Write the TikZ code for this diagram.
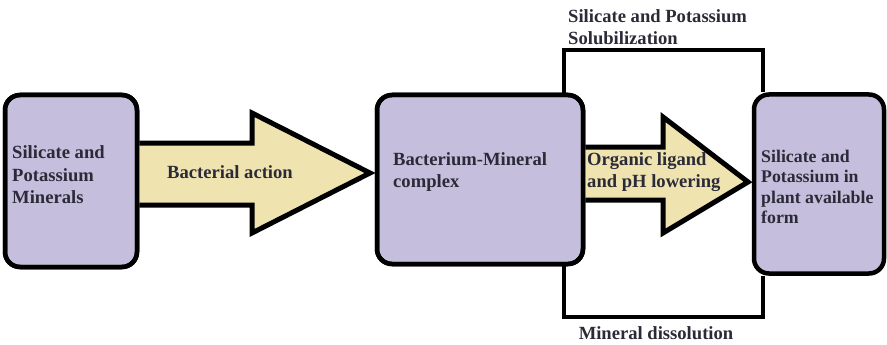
\documentclass[tikz,border=0pt]{standalone}
\usepackage{fontspec}
\setmainfont{Liberation Serif}
\definecolor{boxfill}{HTML}{C6BEDD}
\definecolor{arrfill}{HTML}{EFE3B0}
\definecolor{txt}{HTML}{2B2B38}
\begin{document}
\begin{tikzpicture}[x=1pt,y=-1pt,
  lbl/.style={font=\fontsize{18.6}{22.5}\selectfont\bfseries, text=txt, align=left, inner sep=0pt},
  mbox/.style={draw=black, line width=4.5pt, fill=boxfill, rounded corners=15pt, inner sep=0pt},
  fatarrow/.style={draw=black, line width=5pt, fill=arrfill, line join=miter},
  bracket/.style={draw=black, line width=4.5pt, line join=miter}]
\useasboundingbox (0,0) rectangle (887,345);
% bracket corner points
\coordinate (tl) at (564,50);
\coordinate (tr) at (763,50);
\coordinate (bl) at (564,317);
\coordinate (br) at (763,317);
% boxes
\node[mbox, minimum width=132pt, minimum height=172pt] (b1) at (71,181) {};
\node[mbox, minimum width=206pt, minimum height=169pt] (b2) at (480,179.5) {};
\node[mbox, minimum width=130pt, minimum height=179pt] (b3) at (819,184) {};
\draw[bracket] (b2.north -| tl) -- (tl) -- (tr) -- (b3.north -| tr);
\draw[bracket] (b2.south -| bl) -- (bl) -- (br) -- (b3.south -| br);
% arrows
\draw[fatarrow] (b1.east |- 0,143) -- (252,143) -- (252,113) -- (370,173) -- (252,233) -- (252,205) -- (b1.east |- 0,205);
\draw[fatarrow] (b2.east |- 0,147) -- (663,147) -- (663,117) -- (748,182) -- (663,233) -- (663,200) -- (b2.east |- 0,200);
% redraw box borders over arrow joins
\node[mbox, minimum width=132pt, minimum height=172pt, fill=none] at (b1) {};
\node[mbox, minimum width=206pt, minimum height=169pt, fill=none] at (b2) {};
% texts
\node[lbl, anchor=west] (t1) at (12,175) {Silicate and\\Potassium\\Minerals};
\node[lbl] (t2) at (230,172) {Bacterial action};
\node[lbl, anchor=west] (t3) at (393,172) {Bacterium-Mineral\\complex};
\node[lbl, anchor=west] (t4) at (587,172) {Organic ligand\\and pH lowering};
\node[lbl, anchor=west, font=\fontsize{17.8}{20.5}\selectfont\bfseries] (t5) at (761,187) {Silicate and\\Potassium in\\plant available\\form};
\node[lbl, anchor=west] (t6) at (568,27) {Silicate and Potassium\\Solubilization};
\node[lbl] (t7) at (656,333) {Mineral dissolution};
\end{tikzpicture}
\end{document}
